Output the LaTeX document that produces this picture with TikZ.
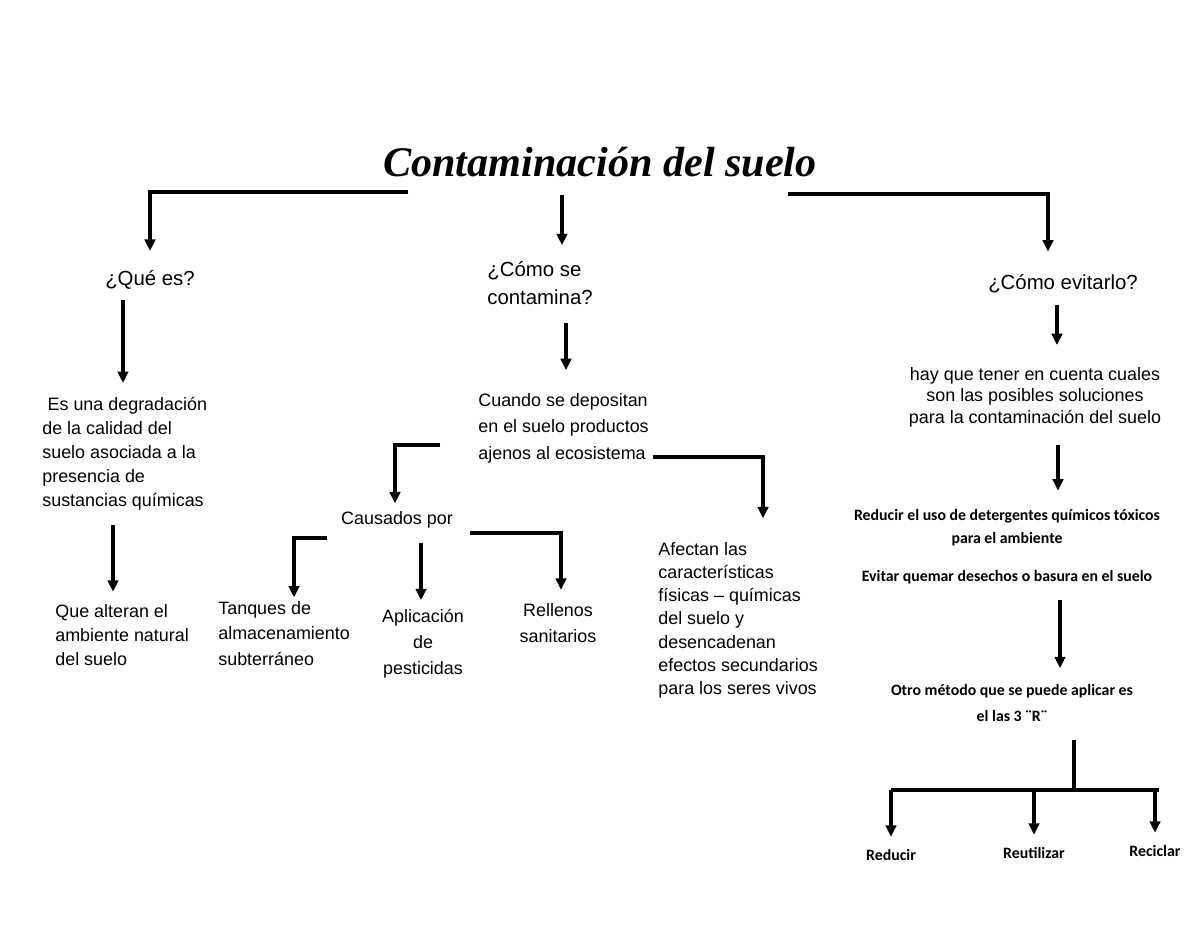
\documentclass[tikz,border=0pt]{standalone}
\usepackage{fontspec}
\usepackage{tikz}
\usetikzlibrary{arrows.meta,calc}
\newfontfamily\arialf{Liberation Sans}
\newfontfamily\calibf{Carlito}
\newfontfamily\titlef{Liberation Serif}
\tikzset{
  linea/.style={line width=2.4pt},
  flecha/.style={linea,-{Triangle[width=6pt,length=6.5pt]}},
  txt/.style={inner sep=0pt,font=\arialf\fontsize{10.2pt}{13.6pt}\selectfont},
  preg/.style={inner sep=0pt,font=\arialf\fontsize{11.6pt}{15.9pt}\selectfont},
  cal/.style={inner sep=0pt,font=\calibf\bfseries\fontsize{9pt}{13pt}\selectfont}
}

\begin{document}
\begin{tikzpicture}[x=0.02cm,y=-0.02cm]
\useasboundingbox (0,0) rectangle (1200,927);
\node[inner sep=0pt,font=\titlef\bfseries\itshape\fontsize{24pt}{28pt}\selectfont] (titulo) at (600,162) {Contaminación del suelo};

\node[preg] (quees) at (150,280) {¿Qué es?};
\node[preg,anchor=north west,align=left] (comose) at (487,261) {¿Cómo se\\contamina?};
\node[preg] (evitar) at (1063,284) {¿Cómo evitarlo?};

\node[txt,anchor=north west,align=left] (degrad) at (42,397) {\hspace*{3pt}Es una degradación\\de la calidad del\\suelo asociada a la\\presencia de\\sustancias químicas};
\node[txt,anchor=north west,align=left] (alteran) at (55,604) {Que alteran el\\ambiente natural\\del suelo};
\node[txt,anchor=north west,align=left,font=\arialf\fontsize{10.2pt}{15pt}\selectfont] (cuando) at (478,393) {Cuando se depositan\\en el suelo productos\\ajenos al ecosistema};
\node[txt] (causados) at (397,520) {Causados por};
\node[txt,anchor=north west,align=left,font=\arialf\fontsize{10.2pt}{14.5pt}\selectfont] (tanques) at (218,601) {Tanques de\\almacenamiento\\subterráneo};
\node[txt,anchor=north,align=center,font=\arialf\fontsize{10.2pt}{14.7pt}\selectfont] (aplic) at (423,609) {Aplicación\\de\\pesticidas};
\node[txt,anchor=north,align=center,font=\arialf\fontsize{10.2pt}{14.7pt}\selectfont] (rellenos) at (558,603) {Rellenos\\sanitarios};
\node[txt,anchor=north west,align=left,font=\arialf\fontsize{10.2pt}{13.2pt}\selectfont] (afectan) at (658,542) {Afectan las\\características\\físicas – químicas\\del suelo y\\desencadenan\\efectos secundarios\\para los seres vivos};
\node[txt,anchor=north,align=center,font=\arialf\fontsize{10.2pt}{12.2pt}\selectfont] (hay) at (1035,367) {hay que tener en cuenta cuales\\son las posibles soluciones\\para la contaminación del suelo};
\node[cal,anchor=north,align=center] (reduc) at (1007,509) {Reducir el uso de detergentes químicos tóxicos\\para el ambiente};
\node[cal] (quemar) at (1007,577) {Evitar quemar desechos o basura en el suelo};
\node[cal,anchor=north,align=center,font=\calibf\bfseries\fontsize{9pt}{14.7pt}\selectfont] (otro) at (1012,684) {Otro método que se puede aplicar es\\el las 3 ¨R¨};
\node[cal] (reducir) at (891,855) {Reducir};
\node[cal] (reutil) at (1034,853) {Reutilizar};
\node[cal] (reciclar) at (1155,851) {Reciclar};

\coordinate (tl) at (408,192);
\coordinate (tm) at (562,195);
\coordinate (tr) at (788,194);
\draw[flecha,shorten >=11pt] (tl) -| (quees.north);
\draw[flecha,shorten >=9pt] (tm) -- (tm |- comose.north);
\draw[flecha,shorten >=13pt] (tr) -| ($(evitar.north)+(-15,0)$);

\coordinate (a1) at (123,300);
\coordinate (a2) at (113,525);
\draw[flecha,shorten >=8pt] (a1) -- (a1 |- degrad.north);
\draw[flecha,shorten >=7pt] (a2) -- (a2 |- alteran.north);

\coordinate (c1) at (566,323);
\coordinate (c2) at (440,445);
\coordinate (c3) at (653,457);
\draw[flecha,shorten >=13pt] (c1) -- (c1 |- cuando.north);
\draw[flecha,shorten >=4.5pt] (c2) -| ($(causados.north)+(-2,0)$);
\draw[flecha,shorten >=13.5pt] (c3) -| ($(afectan.north west)+(105,0)$);

\coordinate (p1) at (327,538);
\coordinate (p2) at (421,543);
\coordinate (p3) at (470,533);
\draw[flecha,shorten >=2pt] (p1) -| ($(tanques.north west)+(76,0)$);
\draw[flecha,shorten >=5pt] (p2) -- (p2 |- aplic.north);
\draw[flecha,shorten >=7.5pt] (p3) -| ($(rellenos.north)+(3,0)$);

\coordinate (e1) at (1057,305);
\coordinate (e2) at (1058,445);
\coordinate (e3) at (1060,600);
\draw[flecha,shorten >=12.5pt] (e1) -- (e1 |- hay.north);
\draw[flecha,shorten >=10.5pt] (e2) -- (e2 |- reduc.north);
\draw[flecha,shorten >=9pt] (e3) -- (e3 |- otro.north);

\coordinate (rt) at (1074,740);
\coordinate (rb) at (1074,790);
\draw[linea] (rt) -- (rb);
\draw[linea] (reducir |- rb) -- ($(reciclar |- rb)+(4,0)$);
\foreach \r in {reducir,reutil,reciclar}
  \draw[flecha,shorten >=7pt] (\r |- rb) -- (\r.north);
\end{tikzpicture}
\end{document}
